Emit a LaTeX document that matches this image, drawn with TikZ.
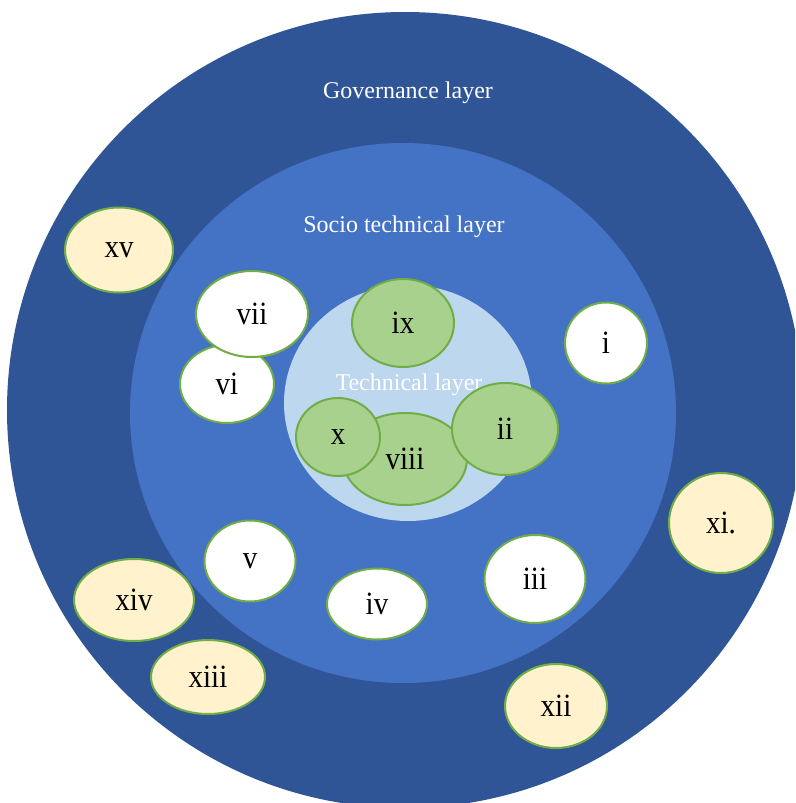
\documentclass[tikz,border=0pt]{standalone}
\usepackage{fontspec}
\setmainfont{Liberation Serif}
\usetikzlibrary{shapes.geometric}
\definecolor{govblue}{HTML}{2F5597}
\definecolor{sociblue}{HTML}{4472C4}
\definecolor{techblue}{HTML}{BDD7EE}
\definecolor{greenfill}{HTML}{A9D18E}
\definecolor{greenline}{HTML}{70AD47}
\definecolor{creamfill}{HTML}{FFF2CC}
\newcommand{\numtxt}[1]{\scalebox{1}[1.12]{#1}}
\tikzset{
  layerlabel/.style={text=white, font=\fontsize{24}{27}\selectfont, inner sep=0pt},
  item/.style={ellipse, draw=greenline, line width=2pt, inner sep=0pt,
    font=\fontsize{29}{32}\selectfont, text=black},
  techitem/.style={item, fill=greenfill},
  sociitem/.style={item, fill=white},
  govitem/.style={item, fill=creamfill},
}
\begin{document}
\begin{tikzpicture}[x=1pt,y=-1pt]
\useasboundingbox (0,0) rectangle (795,803);
\clip (0,0) rectangle (795,803);
\fill[white] (0,0) rectangle (795,803);
% layers
\node[ellipse, fill=govblue, minimum width=796pt, minimum height=796pt, inner sep=0pt] (gov) at (405,410) {};
\node[ellipse, fill=sociblue, minimum width=546pt, minimum height=540pt, inner sep=0pt] (soci) at (403,413) {};
\node[ellipse, fill=techblue, minimum width=248pt, minimum height=236pt, inner sep=0pt] (tech) at (408,403) {};
\node[layerlabel] (govlabel) at (408,93) {Governance layer};
\node[layerlabel] (socilabel) at (404,227) {Socio technical layer};
% technical items
\node[techitem, minimum width=102pt, minimum height=88pt] (ix) at (403,323) {\numtxt{ix}};
\node[layerlabel] (techlabel) at (409,385) {Technical layer};
\node[techitem, minimum width=124pt, minimum height=92pt] (viii) at (405,459) {\numtxt{viii}};
\node[techitem, minimum width=84pt, minimum height=78pt] (x) at (338,437) {\numtxt{x}};
\node[techitem, minimum width=106pt, minimum height=92pt] (ii) at (505,429) {\numtxt{ii}};
% socio technical items
\node[sociitem, minimum width=94pt, minimum height=78pt] (vi) at (227,384) {\numtxt{vi}};
\node[sociitem, minimum width=112pt, minimum height=86pt] (vii) at (252,314) {\numtxt{vii}};
\node[sociitem, minimum width=82pt, minimum height=81pt] (i) at (606,343) {\numtxt{i}};
\node[sociitem, minimum width=91pt, minimum height=81pt] (v) at (250,561) {\numtxt{v}};
\node[sociitem, minimum width=100pt, minimum height=71pt] (iv) at (377,604) {\numtxt{iv}};
\node[sociitem, minimum width=101pt, minimum height=88pt] (iii) at (535,579) {\numtxt{iii}};
% governance items
\node[govitem, minimum width=108pt, minimum height=85pt] (xv) at (119,250) {\numtxt{xv}};
\node[govitem, minimum width=104pt, minimum height=100pt] (xi) at (721,523) {\numtxt{xi.}};
\node[govitem, minimum width=120pt, minimum height=82pt] (xiv) at (134,600) {\numtxt{xiv}};
\node[govitem, minimum width=114pt, minimum height=74pt] (xiii) at (208,677) {\numtxt{xiii}};
\node[govitem, minimum width=102pt, minimum height=84pt] (xii) at (556,706) {\numtxt{xii}};
\end{tikzpicture}
\end{document}
